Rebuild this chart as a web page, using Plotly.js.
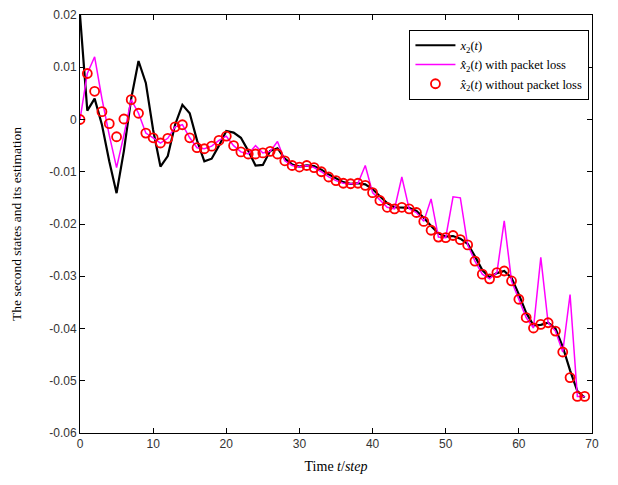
<!DOCTYPE html>
<html>
<head>
<meta charset="utf-8">
<script src="https://cdn.plot.ly/plotly-3.0.1.min.js"></script>
<style>html,body{margin:0;padding:0;background:#fff;}#chart{width:618px;height:485px;}</style>
</head>
<body>
<div id="chart"></div>
<script>
// time steps
const timeSteps = Array.from({length: 70}, (_, i) => i);

// true state x2(t)
const trueState = [
  0.0200, 0.0017, 0.0040, -0.0010, -0.0080, -0.0141, -0.0060, 0.0040, 0.0112, 0.0070,
  -0.0020, -0.0090, -0.0070, -0.0010, 0.0028, 0.0012, -0.0040, -0.0080, -0.0075, -0.0050,
  -0.0022, -0.0025, -0.0035, -0.0060, -0.0088, -0.0087, -0.0060, -0.0055, -0.0075, -0.0086,
  -0.0090, -0.0088, -0.0089, -0.0096, -0.0105, -0.0113, -0.0120, -0.0123, -0.0122, -0.0124,
  -0.0133, -0.0147, -0.0160, -0.0168, -0.0168, -0.0169, -0.0175, -0.0188, -0.0204, -0.0218,
  -0.0224, -0.0223, -0.0228, -0.0238, -0.0262, -0.0288, -0.0302, -0.0294, -0.0290, -0.0303,
  -0.0335, -0.0370, -0.0394, -0.0393, -0.0389, -0.0400, -0.0435, -0.0480, -0.0520, -0.0532
];

// estimate with packet loss
const estWithLoss = [
  0.0000, 0.0088, 0.0120, 0.0040, -0.0030, -0.0092, -0.0030, 0.0038, 0.0012, -0.0026,
  -0.0035, -0.0045, -0.0036, -0.0014, -0.0010, -0.0035, -0.0054, -0.0056, -0.0051, -0.0040,
  -0.0032, -0.0050, -0.0062, -0.0066, -0.0050, -0.0064, -0.0061, -0.0042, -0.0079, -0.0088,
  -0.0091, -0.0088, -0.0092, -0.0100, -0.0110, -0.0117, -0.0122, -0.0123, -0.0122, -0.0088,
  -0.0140, -0.0155, -0.0168, -0.0171, -0.0110, -0.0171, -0.0178, -0.0195, -0.0152, -0.0225,
  -0.0226, -0.0148, -0.0150, -0.0240, -0.0271, -0.0296, -0.0305, -0.0293, -0.0194, -0.0309,
  -0.0344, -0.0379, -0.0399, -0.0264, -0.0389, -0.0405, -0.0445, -0.0335, -0.0530, -0.0530
];

// estimate without packet loss
const estWithoutLoss = [
  0.0000, 0.0088, 0.0054, 0.0015, -0.0008, -0.0033, 0.0001, 0.0038, 0.0012, -0.0026,
  -0.0035, -0.0045, -0.0036, -0.0014, -0.0010, -0.0035, -0.0054, -0.0056, -0.0051, -0.0040,
  -0.0032, -0.0050, -0.0062, -0.0066, -0.0066, -0.0064, -0.0061, -0.0066, -0.0079, -0.0088,
  -0.0091, -0.0088, -0.0092, -0.0100, -0.0110, -0.0117, -0.0122, -0.0123, -0.0122, -0.0126,
  -0.0140, -0.0155, -0.0168, -0.0171, -0.0168, -0.0171, -0.0178, -0.0195, -0.0212, -0.0225,
  -0.0226, -0.0222, -0.0230, -0.0240, -0.0271, -0.0296, -0.0305, -0.0293, -0.0290, -0.0309,
  -0.0344, -0.0379, -0.0399, -0.0392, -0.0389, -0.0405, -0.0445, -0.0494, -0.0530, -0.0530
];

const xTickVals = [0, 10, 20, 30, 40, 50, 60, 70];
const xTickText = ['0', '10', '20', '30', '40', '50', '60', '70'];
const yTickVals = [0.02, 0.01, 0, -0.01, -0.02, -0.03, -0.04, -0.05, -0.06];
const yTickText = ['0.02', '0.01', '0', '-0.01', '-0.02', '-0.03', '-0.04', '-0.05', '-0.06'];

const serif = 'Liberation Serif, DejaVu Serif, serif';
const sans = 'Liberation Sans, Arial, sans-serif';

const traces = [
  {
    x: timeSteps, y: trueState, mode: 'lines', type: 'scatter',
    name: '<i>x</i><sub>2</sub>(<i>t</i>)',
    line: {color: '#000000', width: 2.2}
  },
  {
    x: timeSteps, y: estWithLoss, mode: 'lines', type: 'scatter',
    name: '<i>x̂</i><sub>2</sub>(<i>t</i>) with packet loss',
    line: {color: '#ff00ff', width: 1.5}
  },
  {
    x: timeSteps, y: estWithoutLoss, mode: 'markers', type: 'scatter',
    name: '<i>x̂</i><sub>2</sub>(<i>t</i>) without packet loss',
    marker: {symbol: 'circle-open', color: '#ff0000', size: 9, line: {width: 1.8, color: '#ff0000'}}
  }
];

const axisCommon = {
  showgrid: false, zeroline: false, showline: true, linecolor: '#000', linewidth: 1,
  mirror: 'ticks', ticks: 'inside', ticklen: 5, tickcolor: '#000', tickwidth: 1,
  tickfont: {family: sans, size: 12, color: '#333'}
};

const layout = {
  width: 618, height: 485,
  margin: {l: 80, r: 26, t: 15, b: 52},
  paper_bgcolor: '#fff', plot_bgcolor: '#fff',
  showlegend: true,
  legend: {
    x: 0.995, y: 0.965, xanchor: 'right', yanchor: 'top',
    bgcolor: '#fff', bordercolor: '#000', borderwidth: 1,
    font: {family: serif, size: 12.5, color: '#000'},
    tracegroupgap: 0, itemwidth: 40
  },
  xaxis: Object.assign({}, axisCommon, {
    range: [0, 70], tickmode: 'array', tickvals: xTickVals, ticktext: xTickText,
    title: {text: 'Time <i>t</i>/<i>step</i>', font: {family: serif, size: 14, color: '#000'}, standoff: 10}
  }),
  yaxis: Object.assign({}, axisCommon, {
    range: [-0.06, 0.02], tickmode: 'array', tickvals: yTickVals, ticktext: yTickText,
    title: {text: 'The second states and its estimation', font: {family: serif, size: 13.5, color: '#000'}, standoff: 24}
  })
};

Plotly.newPlot('chart', traces, layout, {displayModeBar: false, staticPlot: true});
</script>
</body>
</html>
